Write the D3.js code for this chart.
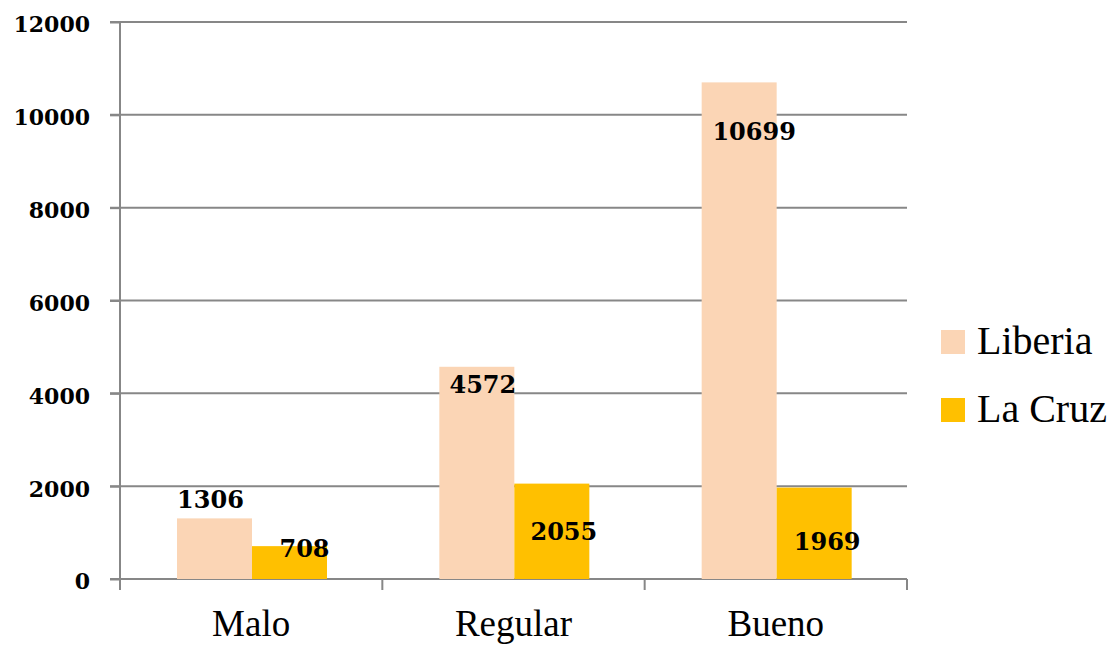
<!DOCTYPE html>
<html>
<head>
<meta charset="utf-8">
<script src="https://cdn.jsdelivr.net/npm/d3@7"></script>
<style>
  body { margin: 0; background: #fff; }
  svg { display: block; }
  .tick text { font-family: "DejaVu Serif", serif; }
</style>
</head>
<body>
<svg id="chart"></svg>
<script>
var categories = ["Malo", "Regular", "Bueno"],
    seriesNames = ["Liberia", "La Cruz"],
    liberia = [1306, 4572, 10699],
    laCruz = [708, 2055, 1969],
    yTicks = [0, 2000, 4000, 6000, 8000, 10000, 12000]

// where Excel happened to drop each value label (dx from bar centre, dy from bar top)
var labelShift = [
  [[-4, -10], [15, 11]],
  [[6, 26], [12, 56]],
  [[15, 58], [13, 62]]
]

var colors = ["#fbd5b5", "#ffc000"],
    gridColor = "#878787"

var width = 1120,
    height = 645,
    plotL = 120, plotR = 907, plotT = 22, plotB = 579

var svg = d3.select("#chart")
  .attr("width", width)
  .attr("height", height)

var rows = categories.map((c, i) => ({cat: c, vals: [liberia[i], laCruz[i]]}))

var x0 = d3.scaleBand().domain(categories).range([plotL, plotR]),
    x1 = d3.scaleBand().domain(seriesNames).range([57, 207]),
    y = d3.scaleLinear().domain([0, 12000]).range([plotB, plotT])

// gridlines
svg.append("g")
  .selectAll("line")
  .data(yTicks)
  .enter().append("line")
    .attr("x1", plotL - 10)
    .attr("x2", plotR)
    .attr("y1", (d) => y(d))
    .attr("y2", (d) => y(d))
    .attr("stroke", gridColor)
    .attr("stroke-width", 2)

// y axis
var yAxis = svg.append("g")
  .attr("transform", `translate(${plotL},0)`)
  .call(d3.axisLeft(y).tickValues(yTicks).tickSize(10).tickPadding(20)
          .tickFormat(d3.format("d")))
yAxis.select(".domain").remove()
yAxis.selectAll(".tick line").attr("stroke", gridColor).attr("stroke-width", 2)
yAxis.selectAll(".tick text")
  .attr("font-size", 22)
  .attr("font-weight", "bold")
  .attr("fill", "#000")
  .attr("dy", "0.45em")

// bars
var group = svg.append("g")
  .selectAll("g")
  .data(rows)
  .enter().append("g")
    .attr("transform", (d) => `translate(${x0(d.cat)},0)`)

group.selectAll("rect")
  .data((d) => d.vals.map((v, j) => ({name: seriesNames[j], v: v, j: j})))
  .enter().append("rect")
    .attr("x", (d) => x1(d.name))
    .attr("width", x1.bandwidth())
    .attr("y", (d) => y(d.v))
    .attr("height", (d) => plotB - y(d.v))
    .attr("fill", (d) => colors[d.j])

group.selectAll("text")
  .data((d, i) => d.vals.map((v, j) => ({name: seriesNames[j], v: v, s: labelShift[i][j]})))
  .enter().append("text")
    .attr("x", (d) => x1(d.name) + x1.bandwidth() / 2 + d.s[0])
    .attr("y", (d) => y(d.v) + d.s[1])
    .attr("text-anchor", "middle")
    .attr("font-family", "DejaVu Serif, serif")
    .attr("font-weight", "bold")
    .attr("font-size", 24)
    .text((d) => d.v)

// x axis
svg.append("line")
  .attr("x1", plotL).attr("x2", plotL)
  .attr("y1", plotT).attr("y2", plotB + 11)
  .attr("stroke", gridColor).attr("stroke-width", 2)

svg.append("g")
  .selectAll("line")
  .data(categories.concat([null]))
  .enter().append("line")
    .attr("x1", (d) => d ? x0(d) : plotR)
    .attr("x2", (d) => d ? x0(d) : plotR)
    .attr("y1", plotB)
    .attr("y2", plotB + 11)
    .attr("stroke", gridColor)
    .attr("stroke-width", 2)

svg.append("g")
  .selectAll("text")
  .data(categories)
  .enter().append("text")
    .attr("x", (d) => x0(d) + x0.bandwidth() / 2)
    .attr("y", 636)
    .attr("text-anchor", "middle")
    .attr("font-family", "Liberation Serif, serif")
    .attr("font-size", 37)
    .text((d) => d)

// legend
var legend = svg.append("g")
  .selectAll("g")
  .data(seriesNames)
  .enter().append("g")
    .attr("transform", (d, i) => `translate(941,${330 + i * 68})`)

legend.append("rect")
  .attr("width", 24)
  .attr("height", 24)
  .attr("fill", (d, i) => colors[i])

legend.append("text")
  .attr("x", 36)
  .attr("y", 24)
  .attr("font-family", "Liberation Serif, serif")
  .attr("font-size", 40)
  .text((d) => d)
</script>
</body>
</html>
